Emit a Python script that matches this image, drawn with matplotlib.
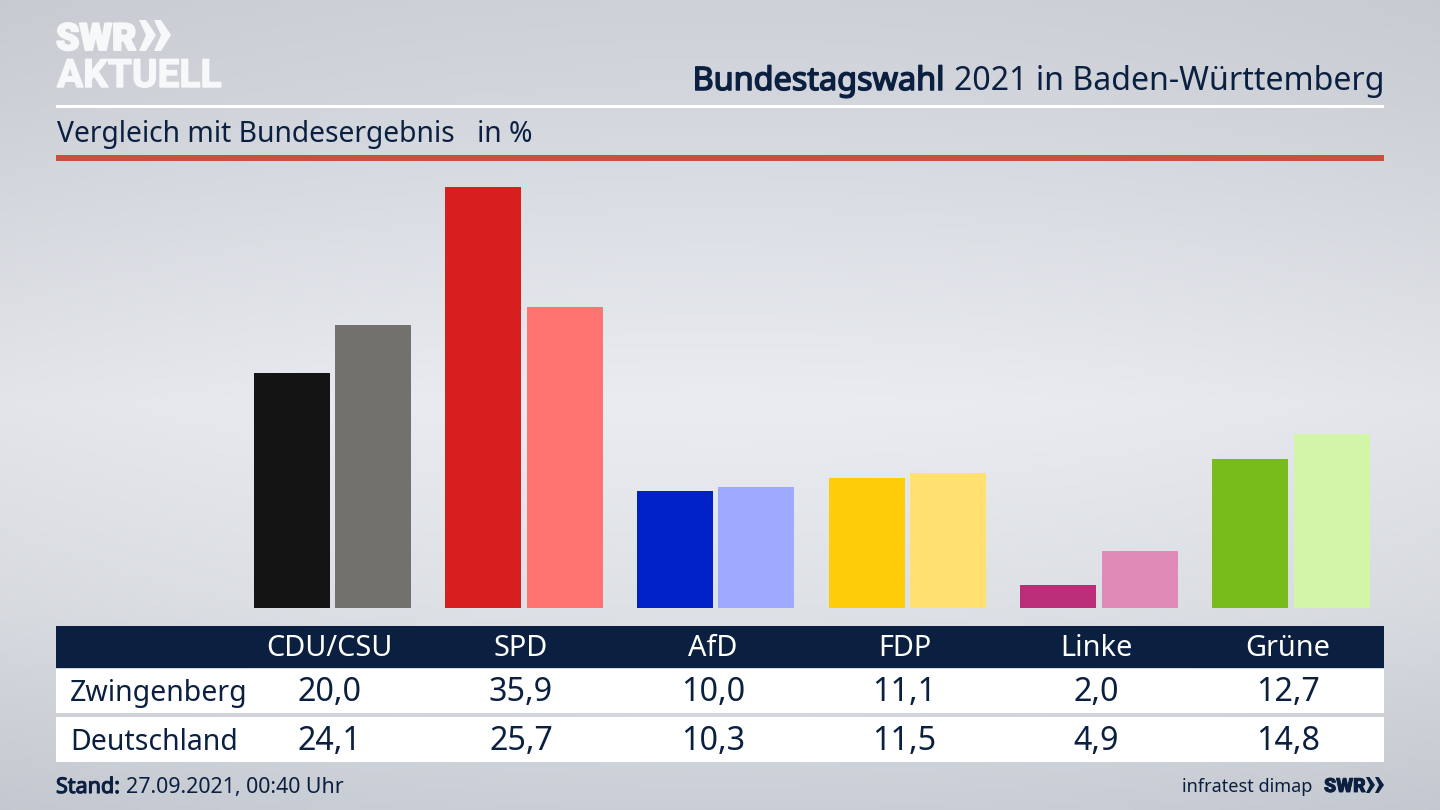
import numpy as np
import matplotlib
matplotlib.use("Agg")
import matplotlib.pyplot as plt
import matplotlib.patheffects as pe
from matplotlib.patches import Rectangle, Polygon

parties = ["CDU/CSU", "SPD", "AfD", "FDP", "Linke", "Grüne"]
zwingenberg = [20.0, 35.9, 10.0, 11.1, 2.0, 12.7]
deutschland = [24.1, 25.7, 10.3, 11.5, 4.9, 14.8]
colors_local = ["#141414", "#d71f1f", "#0020c8", "#ffcc0a", "#bb2d78", "#78bc1c"]
colors_national = ["#72716e", "#ff7370", "#9eaaff", "#ffe070", "#e08ab8", "#d2f5a8"]
row_names = ["Zwingenberg", "Deutschland"]

NAVY = "#0b2040"
LOGO = "#f7f8f9"
W, H = 1440, 810
plt.rcParams["font.family"] = ["Noto Sans", "DejaVu Sans"]
fig = plt.figure(figsize=(W / 100, H / 100), dpi=100)

# page layer in pixel coordinates
bg = fig.add_axes([0, 0, 1, 1])
bg.set_xlim(0, W); bg.set_ylim(H, 0); bg.axis("off")
yy = np.linspace(0, 1, 256)
stops_y = [0, 0.12, 0.5, 0.75, 1]
r = np.interp(yy, stops_y, [206, 211, 234, 222, 202])
g = np.interp(yy, stops_y, [210, 215, 236, 225, 206])
b = np.interp(yy, stops_y, [216, 221, 241, 230, 214])
xx = np.linspace(-1, 1, 256)
edge = 1 - 0.03 * np.abs(xx) ** 2
grad = np.stack([r, g, b], axis=1)[:, None, :] * edge[None, :, None] / 255
bg.imshow(grad, extent=[0, W, H, 0], aspect="auto", zorder=0)

def rect(x0, y0, x1, y1, c, z=1):
    bg.add_patch(Rectangle((x0, y0), x1 - x0, y1 - y0, fc=c, ec="none", zorder=z))

def heavy(color, w):
    return [pe.withStroke(linewidth=w, foreground=color)]

rect(56, 105, 1384, 107.5, "white")
rect(56, 155, 1384, 160.5, "#c9503f")
rect(56, 626, 1384, 668, NAVY)
rect(56, 669, 1384, 713, "white")
rect(56, 717, 1384, 762, "white")

# logo
bg.text(56, 50, "SWR", color=LOGO, fontsize=27, fontweight="black", family="Roboto",
        va="baseline", ha="left", path_effects=heavy(LOGO, 1.4))
bg.text(57, 87, "AKTUELL", color=LOGO, fontsize=28, fontweight="bold", family="Roboto",
        va="baseline", ha="left", path_effects=heavy(LOGO, 1.0))
for x0 in (139, 154):
    bg.add_patch(Polygon([(x0, 20), (x0 + 7, 20), (x0 + 17, 35), (x0 + 7, 51), (x0, 51), (x0 + 7, 35)],
                         fc=LOGO, ec="none", zorder=3))
for x0 in (1366, 1375):
    bg.add_patch(Polygon([(x0, 777), (x0 + 3.5, 777), (x0 + 9, 785), (x0 + 3.5, 793), (x0, 793), (x0 + 4, 785)],
                         fc=NAVY, ec="none", zorder=3))

# title
t2 = bg.text(1384, 90, "2021 in Baden-Württemberg", color=NAVY, fontsize=23.1, ha="right", va="baseline")
fig.canvas.draw()
ext = t2.get_window_extent(fig.canvas.get_renderer())
bg.text(ext.x0 - 9, 90, "Bundestagswahl", color=NAVY, fontsize=23.3, ha="right", va="baseline",
        path_effects=heavy(NAVY, 1.1))
bg.text(57, 142, "Vergleich mit Bundesergebnis", color=NAVY, fontsize=20.35, va="baseline")
bg.text(477, 142, "in %", color=NAVY, fontsize=20.35, va="baseline")

# bars
unit_px, first_px, base_px, px_per_val = 191.7, 332.3, 608, 11.73
top_px = 165
ax = fig.add_axes([56 / W, 1 - base_px / H, (1384 - 56) / W, (base_px - top_px) / H])
ax.patch.set_alpha(0)
ax.set_xlim((56 - first_px) / unit_px, (1384 - first_px) / unit_px)
ax.set_ylim(0, (base_px - top_px) / px_per_val)
ax.axis("off")
x = np.arange(len(parties))
bw, off = 76 / unit_px, 40.7 / unit_px
ax.bar(x - off, zwingenberg, bw, color=colors_local)
ax.bar(x + off, deutschland, bw, color=colors_national)

# table
for i, p in enumerate(parties):
    cx = first_px - 3 + unit_px * i
    bg.text(cx, 656, p, color="white", fontsize=20.8, ha="center", va="baseline")
    bg.text(cx, 701, f"{zwingenberg[i]:.1f}".replace(".", ","), color=NAVY, fontsize=23.2, ha="center", va="baseline")
    bg.text(cx, 750, f"{deutschland[i]:.1f}".replace(".", ","), color=NAVY, fontsize=23.2, ha="center", va="baseline")
bg.text(70, 701, row_names[0], color=NAVY, fontsize=20.5, va="baseline")
bg.text(70, 750, row_names[1], color=NAVY, fontsize=20.5, va="baseline")

# footer
bg.text(56, 793, "Stand:", color=NAVY, fontsize=15.5, va="baseline", path_effects=heavy(NAVY, 0.8))
bg.text(126, 793, "27.09.2021, 00:40 Uhr", color=NAVY, fontsize=15.4, va="baseline")
bg.text(1312, 792, "infratest dimap", color=NAVY, fontsize=13, ha="right", va="baseline")
bg.text(1324, 792, "SWR", color=NAVY, fontsize=14, fontweight="black", family="Roboto", va="baseline",
        path_effects=heavy(NAVY, 0.6))

fig.savefig("out.png", dpi=100)
